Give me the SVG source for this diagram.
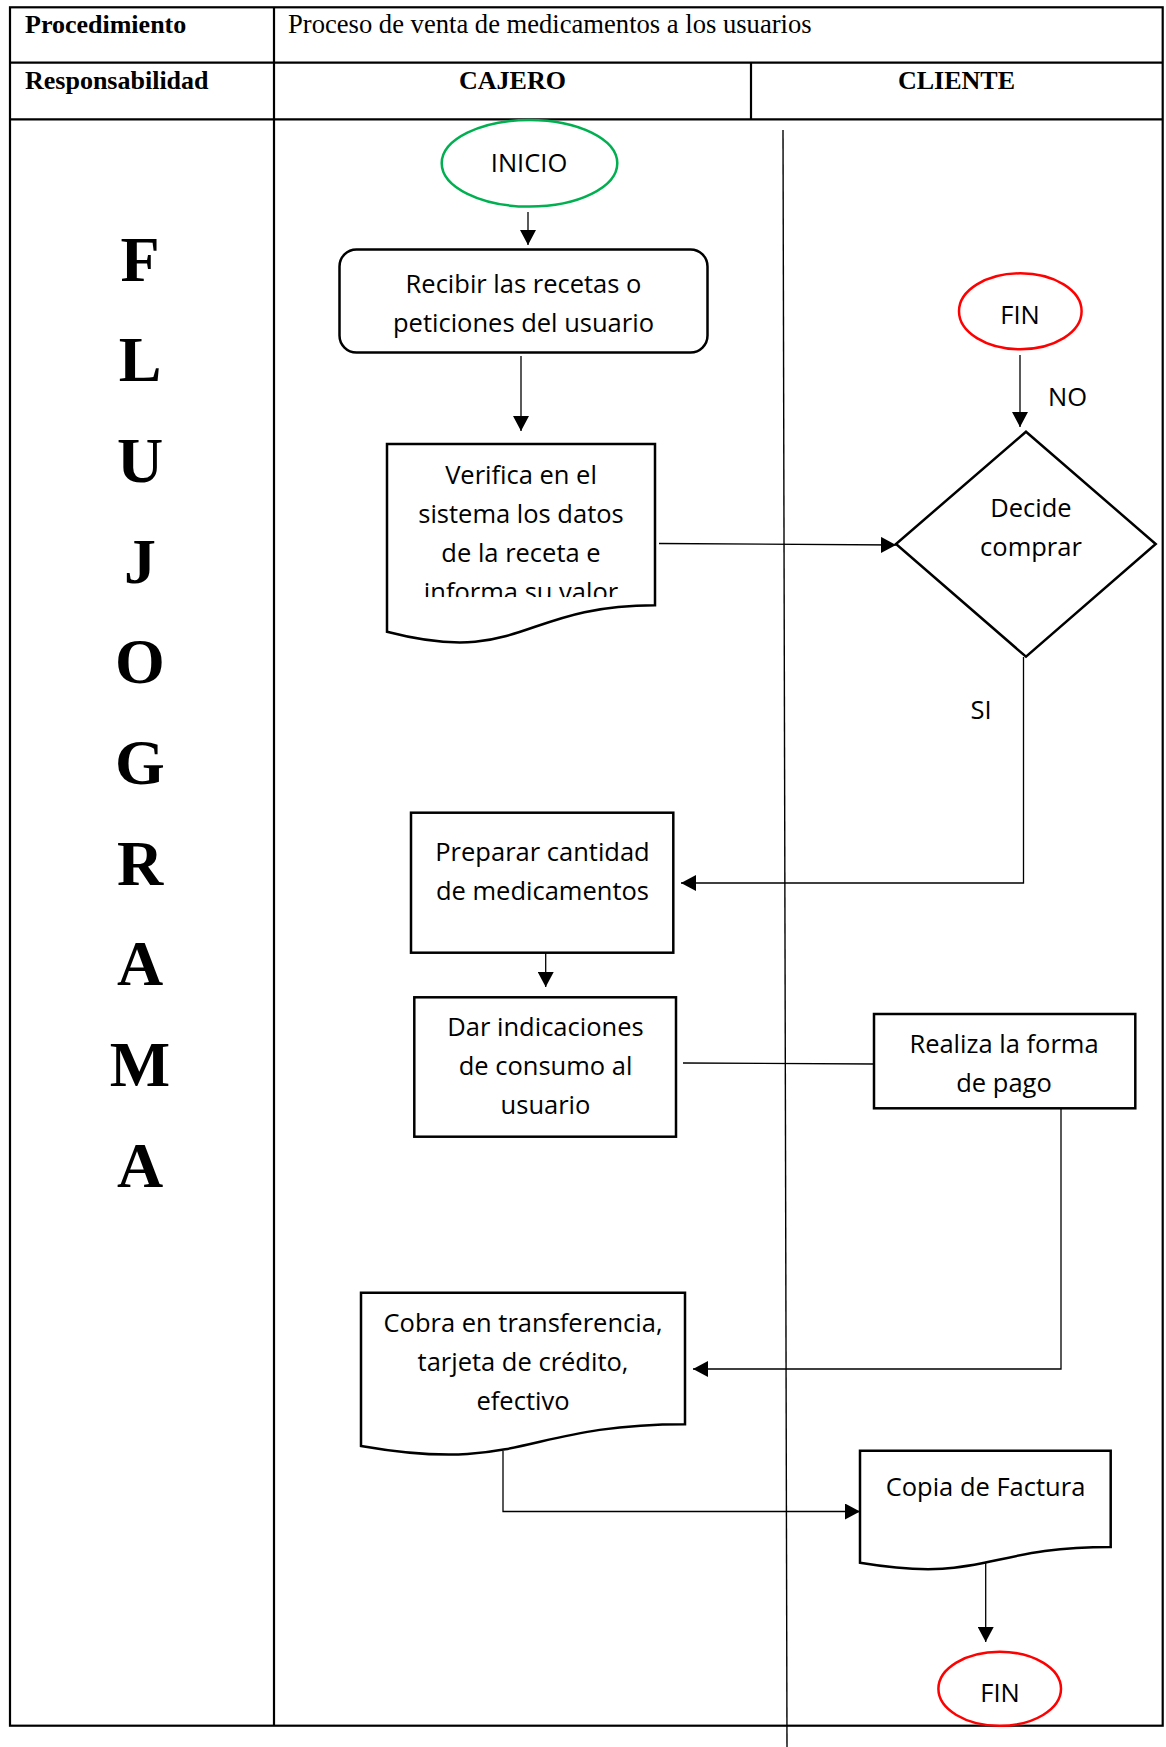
<svg xmlns="http://www.w3.org/2000/svg" width="1166" height="1747" viewBox="0 0 1166 1747">
  <style>
    .grid { fill: none; stroke: #000; stroke-width: 2.2; }
    .hdr { font-family: "Liberation Serif", "Times New Roman", serif; font-size: 26px; fill: #000; }
    .b { font-weight: bold; }
    .big { font-family: "Liberation Serif", "Times New Roman", serif; font-size: 64px; font-weight: bold; fill: #000; text-anchor: middle; }
    .shape { fill: #fff; stroke: #000; stroke-width: 2.5; }
    .start { fill: #fff; stroke: #00b050; stroke-width: 2.5; }
    .end { fill: #fff; stroke: #ff0000; stroke-width: 2.5; }
    .lbl { font-family: "Open Sans", "Noto Sans", sans-serif; font-size: 25.5px; fill: #000; text-anchor: middle; }
    .conn { fill: none; stroke: #000; stroke-width: 1.3; }
    .lane { fill: none; stroke: #000; stroke-width: 1.4; }
  </style>
  <defs>
    <marker id="arrow" markerUnits="userSpaceOnUse" markerWidth="16" markerHeight="16" refX="15" refY="8" orient="auto">
      <path d="M0,0 L15,8 L0,16 Z" fill="#000"/>
    </marker>
    <clipPath id="clipVerifica">
      <rect x="387" y="444" width="268" height="153"/>
    </clipPath>
  </defs>

  <rect width="1166" height="1747" fill="#fff"/>

  <!-- form table -->
  <g id="table">
    <rect class="grid" x="10" y="7.3" width="1152.7" height="1718.4"/>
    <line class="grid" x1="10" y1="62.7" x2="1162.7" y2="62.7"/>
    <line class="grid" x1="10" y1="119.3" x2="1162.7" y2="119.3"/>
    <line class="grid" x1="274" y1="7.3" x2="274" y2="1725.7"/>
    <line class="grid" x1="751" y1="62.7" x2="751" y2="119.3"/>
    <text class="hdr b" x="25" y="33.3">Procedimiento</text>
    <text class="hdr" x="288" y="33.3" style="font-size:26.6px">Proceso de venta de medicamentos a los usuarios</text>
    <text class="hdr b" x="25" y="89.3">Responsabilidad</text>
    <text class="hdr b" x="512.5" y="89.3" text-anchor="middle">CAJERO</text>
    <text class="hdr b" x="956.5" y="89.3" text-anchor="middle">CLIENTE</text>
  </g>

  <!-- vertical title -->
  <g id="title">
    <text class="big" x="140" y="280.5">F</text>
    <text class="big" x="140" y="381.2">L</text>
    <text class="big" x="140" y="481.9">U</text>
    <text class="big" x="140" y="582.6">J</text>
    <text class="big" x="140" y="683.3">O</text>
    <text class="big" x="140" y="784">G</text>
    <text class="big" x="140" y="884.7">R</text>
    <text class="big" x="140" y="985.4">A</text>
    <text class="big" x="140" y="1086.1">M</text>
    <text class="big" x="140" y="1186.8">A</text>
  </g>

  <!-- swimlane divider -->
  <line id="lane-divider" class="lane" x1="783" y1="130" x2="787" y2="1747"/>

  <!-- connectors -->
  <g id="connectors">
    <path class="conn" d="M528,212 V245" marker-end="url(#arrow)"/>
    <path class="conn" d="M521,356 V431" marker-end="url(#arrow)"/>
    <path class="conn" d="M659,543.5 L896,545" marker-end="url(#arrow)"/>
    <path class="conn" d="M1020,355 V427" marker-end="url(#arrow)"/>
    <path class="conn" d="M1023.5,657 V883 H681" marker-end="url(#arrow)"/>
    <path class="conn" d="M545.7,953 V987" marker-end="url(#arrow)"/>
    <path class="conn" d="M683,1063 L874,1064"/>
    <path class="conn" d="M1061,1108 V1369 H693" marker-end="url(#arrow)"/>
    <path class="conn" d="M503,1451 V1511.5 H860" marker-end="url(#arrow)"/>
    <path class="conn" d="M985.7,1563 V1642" marker-end="url(#arrow)"/>
    <text class="lbl" x="1067.5" y="405.5">NO</text>
    <text class="lbl" x="981" y="718.5">SI</text>
  </g>

  <!-- nodes -->
  <g id="inicio">
    <ellipse class="start" cx="529.5" cy="163.3" rx="87.8" ry="43.3"/>
    <text class="lbl" x="529" y="171.5">INICIO</text>
  </g>

  <g id="recibir">
    <rect class="shape" x="339.5" y="249.5" width="368" height="103" rx="17"/>
    <text class="lbl" x="523.5" y="292.5">Recibir las recetas o</text>
    <text class="lbl" x="523.5" y="331.5">peticiones del usuario</text>
  </g>

  <g id="verifica">
    <path class="shape" d="M387,444 H655 V605.2 C521,605.2 521,666.6 387,631.7 Z"/>
    <g clip-path="url(#clipVerifica)">
      <text class="lbl" x="521" y="484">Verifica en el</text>
      <text class="lbl" x="521" y="523">sistema los datos</text>
      <text class="lbl" x="521" y="562">de la receta e</text>
      <text class="lbl" x="521" y="601">informa su valor</text>
    </g>
  </g>

  <g id="fin-no">
    <ellipse class="end" cx="1020.3" cy="311.3" rx="61.3" ry="38"/>
    <text class="lbl" x="1020" y="323.5">FIN</text>
  </g>

  <g id="decide">
    <path class="shape" d="M1026,431.7 L1155.7,544 L1026,656.7 L896,544 Z"/>
    <text class="lbl" x="1031" y="516.5">Decide</text>
    <text class="lbl" x="1031" y="555.5">comprar</text>
  </g>

  <g id="preparar">
    <rect class="shape" x="411" y="812.7" width="262.3" height="140"/>
    <text class="lbl" x="542.5" y="861">Preparar cantidad</text>
    <text class="lbl" x="542.5" y="900">de medicamentos</text>
  </g>

  <g id="indicaciones">
    <rect class="shape" x="414.3" y="997.3" width="261.7" height="139.4"/>
    <text class="lbl" x="545.5" y="1035.5">Dar indicaciones</text>
    <text class="lbl" x="545.5" y="1074.5">de consumo al</text>
    <text class="lbl" x="545.5" y="1113.5">usuario</text>
  </g>

  <g id="pago">
    <rect class="shape" x="874" y="1014" width="261.3" height="94.3"/>
    <text class="lbl" x="1004" y="1053">Realiza la forma</text>
    <text class="lbl" x="1004" y="1092">de pago</text>
  </g>

  <g id="cobra">
    <path class="shape" d="M361,1292.7 H685 V1424.2 C523,1424.2 523,1474.3 361,1445.9 Z"/>
    <text class="lbl" x="523" y="1332">Cobra en transferencia,</text>
    <text class="lbl" x="523" y="1371">tarjeta de crédito,</text>
    <text class="lbl" x="523" y="1410">efectivo</text>
  </g>

  <g id="factura">
    <path class="shape" d="M860,1450.7 H1110.7 V1546.9 C985.5,1546.9 985.5,1583.6 860,1562.8 Z"/>
    <text class="lbl" x="985.5" y="1496">Copia de Factura</text>
  </g>

  <g id="fin">
    <ellipse class="end" cx="999.7" cy="1688.8" rx="61.3" ry="37"/>
    <text class="lbl" x="1000" y="1701.5">FIN</text>
  </g>
</svg>
